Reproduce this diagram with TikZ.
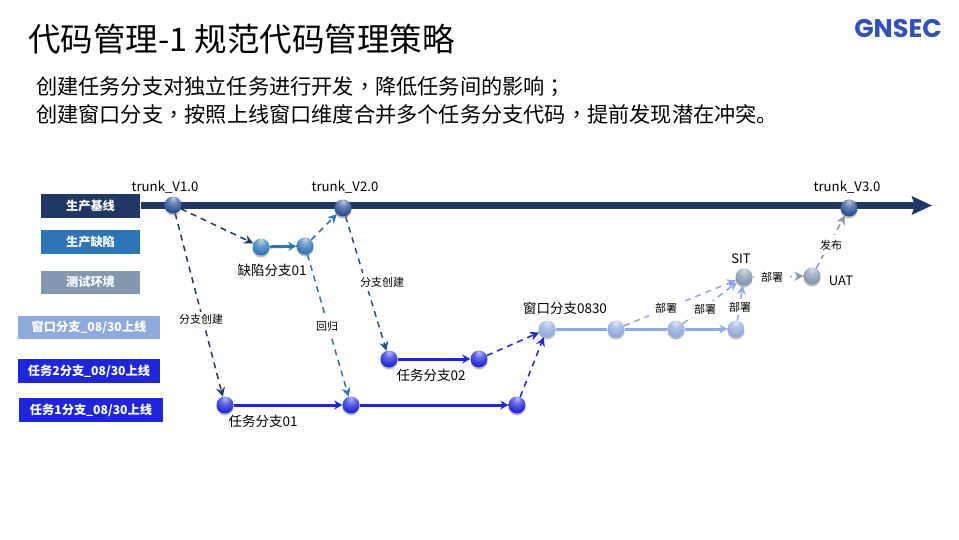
\documentclass[tikz,border=0pt]{standalone}
\usepackage{fontspec}
\setmainfont{Noto Sans CJK SC}
\newfontfamily\logofont{Poppins}
\newfontfamily\tcfont{Noto Sans CJK TC}
\usetikzlibrary{arrows.meta,shadows}
\definecolor{navy}{HTML}{1F3864}
\definecolor{navyball}{HTML}{264F96}
\definecolor{bugblue}{HTML}{2E75B6}
\definecolor{testgray}{HTML}{8497B0}
\definecolor{winblue}{HTML}{8FAADC}
\definecolor{taskblue}{HTML}{1F26D8}
\definecolor{logoblue}{HTML}{2F52B4}
\newcommand{\mkball}[2]{\pgfdeclareradialshading{ball#1}{\pgfpoint{0bp}{20bp}}{color(0bp)=(#2!30!white);color(14bp)=(#2!70!white);color(34bp)=(#2);color(62bp)=(#2!62!black);color(100bp)=(#2!62!black)}}
\mkball{navy}{navyball}
\mkball{bug}{bugblue}
\mkball{task}{taskblue}
\mkball{win}{winblue}
\mkball{test}{testgray}
\tikzset{
 x=1pt,y=-1pt,
 ballnode/.style={circle,minimum size=17pt,inner sep=0pt,shading=ball#1,
   drop shadow={shadow xshift=0pt,shadow yshift=-2pt,opacity=.25,fill=black}},
 legend/.style={fill=#1,text=white,font=\fontsize{12.2}{14}\selectfont\bfseries,inner sep=0pt,anchor=center},
 lbl/.style={font=\fontsize{13.2}{15}\selectfont,text=black,inner sep=0pt},
 biglbl/.style={font=\fontsize{13.5}{15}\selectfont,text=black,fill=white,inner sep=0pt},
 smalllbl/.style={font=\fontsize{11}{13}\selectfont,text=black,fill=white,inner sep=2pt},
 dline/.style={dashed,dash pattern=on 6pt off 5pt,line width=1.5pt,-{Stealth[length=9pt,width=9pt]},draw=#1},
 sline/.style={line width=3pt,-{Stealth[length=8pt,width=9pt]},draw=#1},
 pline/.style={line width=3pt,draw=#1},
}
\begin{document}
\begin{tikzpicture}
\useasboundingbox (0,0) rectangle (959,539);
\fill[white] (0,0) rectangle (959,539);
% title
\node[anchor=west,inner sep=0pt,font=\fontsize{32.5}{36}\selectfont] (title) at (28,39) {代码管理-1 规范代码管理策略};
\node[anchor=west,inner sep=0pt,font=\fontsize{21.2}{26}\selectfont] (sub1) at (36,87) {创建任务分支对独立任务进行开发{\tcfont ，}降低任务间的影响{\tcfont ；}};
\node[anchor=west,inner sep=0pt,font=\fontsize{21.2}{26}\selectfont] (sub2) at (36,114) {创建窗口分支{\tcfont ，}按照上线窗口维度合并多个任务分支代码{\tcfont ，}提前发现潜在冲突。};
\node[inner sep=0pt,text=logoblue,font=\logofont\bfseries\fontsize{25.5}{28}\selectfont] (logo) at (898,29) {GNSEC};
% legend
\node[legend=navy,minimum width=99pt,minimum height=24pt] (l1) at (90.5,206) {生产基线};
\node[legend=bugblue,minimum width=99pt,minimum height=24pt] (l2) at (90.5,242) {生产缺陷};
\node[legend=testgray,minimum width=99pt,minimum height=23pt] (l3) at (90.5,282) {测试环境};
\node[legend=winblue,minimum width=142pt,minimum height=23pt] (l4) at (89,327) {窗口分支\_08/30上线};
\node[legend=taskblue,minimum width=142pt,minimum height=24pt] (l5) at (89,371) {任务2分支\_08/30上线};
\node[legend=taskblue,minimum width=144pt,minimum height=24pt] (l6) at (91,410) {任务1分支\_08/30上线};
% trunk
\coordinate (ts) at (141,205.5);
\coordinate (te) at (932,205.5);
\draw[navy,line width=7pt,-{Stealth[length=20pt,width=18pt,inset=3pt]}] (ts) -- (te);
% balls
\node[ballnode=navy] (t1) at (173,205) {};
\node[ballnode=navy] (t2) at (343,208) {};
\node[ballnode=navy] (t3) at (849,208) {};
\node[ballnode=bug] (b1) at (261,247) {};
\node[ballnode=bug] (b2) at (305,246) {};
\node[ballnode=task] (a1) at (225,405) {};
\node[ballnode=task] (a2) at (351,405) {};
\node[ballnode=task] (a3) at (517,405) {};
\node[ballnode=task] (c1) at (389,359) {};
\node[ballnode=task] (c2) at (479,359) {};
\node[ballnode=win] (w1) at (547,329) {};
\node[ballnode=win] (w2) at (616,329) {};
\node[ballnode=win] (w3) at (676,329) {};
\node[ballnode=win] (w4) at (736,329) {};
\node[ballnode=test] (sit) at (744,277) {};
\node[ballnode=test] (uat) at (812,276) {};
% solid
\draw[sline=bugblue] (b1) -- (b2);
\draw[sline=taskblue] (a1) -- (a2);
\draw[sline=taskblue] (a2) -- (a3);
\draw[sline=taskblue] (c1) -- (c2);
\draw[pline=winblue] (w1) -- (w2);
\draw[pline=winblue] (w2) -- (w3);
\draw[sline=winblue] (w3) -- (w4);
% dashed
\draw[dline=navy] (t1) -- (b1);
\draw[dline=navy] (t1) -- (a1);
\draw[dline=bugblue] (b2) -- (t2);
\draw[dline=bugblue] (b2) -- (a2);
\draw[dline=navy!60!bugblue] (t2) -- (c1);
\draw[dline=taskblue] (c2) -- (w1);
\draw[dline=taskblue] (a3) -- (w1);
\draw[dline=winblue] (w2) -- (sit);
\draw[dline=winblue] (w3) -- (sit);
\draw[dline=winblue] (w4) -- (sit);
\draw[dline=testgray] (sit) -- (uat);
\draw[dline=testgray] (uat) -- (t3);
% labels
\node[lbl] (n1) at (165,187) {trunk\_V1.0};
\node[lbl] (n2) at (345,187) {trunk\_V2.0};
\node[lbl] (n3) at (847,187) {trunk\_V3.0};
\node[biglbl,inner sep=2pt] (n4) at (272,270) {缺陷分支01};
\node[biglbl] (n5) at (263,421) {任务分支01};
\node[biglbl] (n6) at (431,375) {任务分支02};
\node[biglbl] (n7) at (565,308) {窗口分支0830};
\node[smalllbl] (s1) at (201,319) {分支创建};
\node[smalllbl,inner sep=5pt] (s2) at (327,326) {回归};
\node[smalllbl,inner sep=4pt] (s3) at (382,282) {分支创建};
\node[smalllbl,inner sep=6pt] (s4) at (666,308) {部署};
\node[smalllbl,inner sep=3pt] (s5) at (705,309) {部署};
\node[smalllbl,inner sep=3pt] (s6) at (740,307) {部署};
\node[smalllbl,inner sep=7pt] (s7) at (772,277) {部署};
\node[smalllbl,inner sep=5pt] (s8) at (831,245) {发布};
\node[lbl,font=\fontsize{13}{15}\selectfont] (n8) at (741,259) {SIT};
\node[lbl,font=\fontsize{13}{15}\selectfont] (n9) at (841,281) {UAT};
\end{tikzpicture}
\end{document}
